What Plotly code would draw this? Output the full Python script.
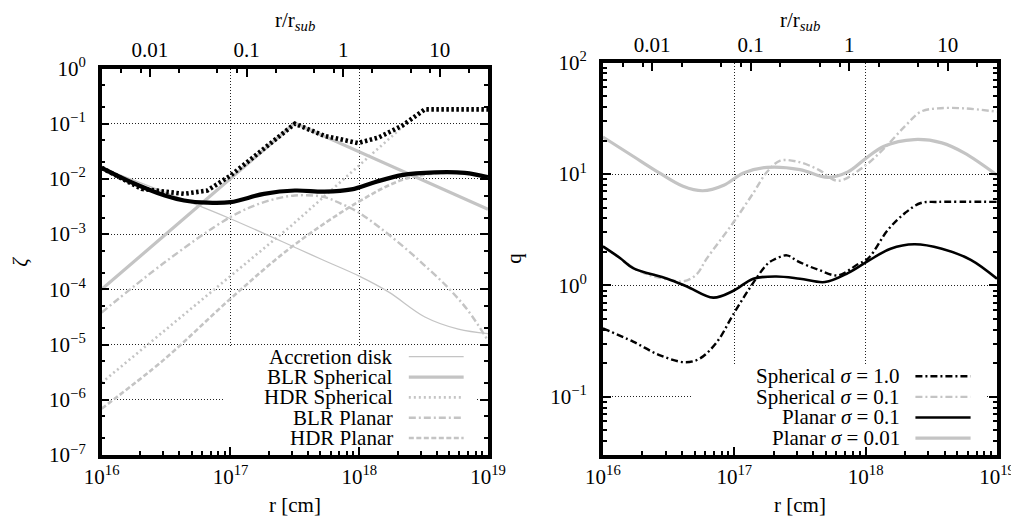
import numpy as np
import plotly.graph_objects as go

# ---------------- data (log10 values) ----------------
# Left panel: zeta vs r [cm]
disk_logr = [16.0, 16.615, 17.0, 17.52, 17.71, 18.0, 18.23, 18.51, 18.77, 19.0]
disk_logz = [-1.80, -2.355, -2.72, -3.26, -3.46, -3.76, -4.05, -4.50, -4.72, -4.80]

blrs_logr = [16.0, 17.5, 19.0]
blrs_logz = [-4.0, -0.99, -2.55]

hdrs_logr = [16.0, 17.476, 18.33, 18.51, 19.0]
hdrs_logz = [-5.69, -2.84, -1.07, -0.74, -0.76]

blrp_logr = [16.0, 16.49, 17.0, 17.26, 17.5, 17.73, 17.86, 17.99, 18.17, 18.38, 18.50, 18.69, 18.85, 19.0]
blrp_logz = [-4.42, -3.51, -2.69, -2.42, -2.30, -2.33, -2.45, -2.60, -2.90, -3.30, -3.55, -3.97, -4.40, -4.93]

hdrp_logr = [16.0, 16.49, 17.0, 17.476, 17.99, 18.33, 18.59, 18.82, 19.0]
hdrp_logz = [-6.16, -5.26, -4.17, -3.23, -2.42, -2.02, -1.90, -1.90, -1.98]

totsph_logr = [16.0, 16.31, 16.64, 16.82, 17.0, 17.26, 17.47, 17.5, 17.73, 17.99, 18.15, 18.33, 18.51, 19.0]
totsph_logz = [-1.80, -2.18, -2.27, -2.21, -1.94, -1.46, -1.05, -1.0, -1.22, -1.35, -1.25, -1.04, -0.74, -0.74]

totpl_logr = [16.0, 16.23, 16.49, 16.64, 16.82, 17.0, 17.26, 17.5, 17.73, 17.94, 18.12, 18.33, 18.59, 18.82, 19.0]
totpl_logz = [-1.80, -2.06, -2.30, -2.39, -2.43, -2.42, -2.27, -2.21, -2.23, -2.19, -2.06, -1.93, -1.88, -1.89, -1.97]

# Right panel: q vs r [cm]
sph1_logr = [16.0, 16.23, 16.43, 16.625, 16.74, 16.87, 16.99, 17.12, 17.25, 17.30, 17.40, 17.485, 17.64, 17.79, 17.94, 18.02, 18.17, 18.30, 18.42, 18.55, 19.0]
sph1_logq = [-0.385, -0.505, -0.625, -0.69, -0.655, -0.505, -0.265, -0.02, 0.19, 0.23, 0.27, 0.216, 0.14, 0.09, 0.19, 0.243, 0.50, 0.65, 0.74, 0.75, 0.75]

sph01_logr = [16.0, 16.13, 16.23, 16.36, 16.49, 16.61, 16.71, 16.79, 16.99, 17.145, 17.25, 17.35, 17.485, 17.64, 17.79, 17.99, 18.14, 18.30, 18.42, 18.55, 18.75, 19.0]
sph01_logq = [0.35, 0.245, 0.16, 0.09, 0.055, 0.036, 0.095, 0.24, 0.56, 0.83, 1.02, 1.12, 1.11, 1.04, 0.94, 1.07, 1.23, 1.43, 1.56, 1.59, 1.59, 1.56]

pl01_logr = [16.0, 16.13, 16.23, 16.49, 16.64, 16.84, 16.99, 17.145, 17.32, 17.5, 17.69, 17.865, 18.02, 18.19, 18.37, 18.58, 18.80, 19.0]
pl01_logq = [0.35, 0.246, 0.156, 0.06, -0.01, -0.11, -0.05, 0.06, 0.08, 0.06, 0.03, 0.11, 0.22, 0.33, 0.37, 0.33, 0.23, 0.06]

pl001_logr = [16.0, 16.23, 16.43, 16.61, 16.76, 16.92, 17.07, 17.25, 17.5, 17.71, 17.865, 17.99, 18.14, 18.37, 18.58, 18.75, 19.0]
pl001_logq = [1.333, 1.16, 1.01, 0.89, 0.85, 0.90, 1.01, 1.06, 1.04, 0.97, 1.02, 1.13, 1.25, 1.31, 1.28, 1.19, 0.99]

left_names = ["Accretion disk", "BLR Spherical", "HDR Spherical", "BLR Planar", "HDR Planar"]
right_names = ["Spherical <i>σ</i> = 1.0", "Spherical <i>σ</i> = 0.1",
               "Planar <i>σ</i> = 0.1", "Planar <i>σ</i> = 0.01"]

x_tickvals = [1e16, 1e17, 1e18, 1e19]
x_ticktext = ["10<sup>16</sup>", "10<sup>17</sup>", "10<sup>18</sup>", "10<sup>19</sup>"]
top_tickvals = [0.01, 0.1, 1, 10]
top_ticktext = ["0.01", "0.1", "1", "10"]
zeta_tickvals = [10.0 ** e for e in range(-7, 1)]
zeta_ticktext = ["10<sup>−7</sup>", "10<sup>−6</sup>", "10<sup>−5</sup>", "10<sup>−4</sup>",
                 "10<sup>−3</sup>", "10<sup>−2</sup>", "10<sup>−1</sup>", "10<sup>0</sup>"]
q_tickvals = [0.1, 1, 10, 100]
q_ticktext = ["10<sup>−1</sup>", "10<sup>0</sup>", "10<sup>1</sup>", "10<sup>2</sup>"]

# ---------------- styles / geometry ----------------
GRAY = "#c4c4c4"
BLACK = "#000000"
FONT = "Liberation Serif, DejaVu Serif, serif"
FS = 21
DASHDOT = "7px,3px,2px,3px"

OFF = 8                      # page body margin
W, H = 1019 - OFF, 520 - OFF  # figure size in page


def xp(px):
    return (px - OFF) / W


def yp(py):
    return 1 - (py - OFF) / H


left_styles = [
    dict(color=GRAY, width=1.2, dash="solid"),
    dict(color=GRAY, width=3.2, dash="solid"),
    dict(color=GRAY, width=2.6, dash="2px,3px"),
    dict(color=GRAY, width=2.4, dash=DASHDOT),
    dict(color=GRAY, width=2.6, dash="5px,2.5px"),
]
right_styles = [
    dict(color=BLACK, width=2.4, dash=DASHDOT),
    dict(color=GRAY, width=2.4, dash=DASHDOT),
    dict(color=BLACK, width=2.6, dash="solid"),
    dict(color=GRAY, width=3.2, dash="solid"),
]


def pw(a):
    return (10.0 ** np.array(a)).tolist()


fig = go.Figure()

left_data = [(disk_logr, disk_logz, "spline"), (blrs_logr, blrs_logz, "linear"),
             (hdrs_logr, hdrs_logz, "linear"), (blrp_logr, blrp_logz, "spline"),
             (hdrp_logr, hdrp_logz, "spline")]
for (lr, lz, shp), nm, st in zip(left_data, left_names, left_styles):
    fig.add_trace(go.Scatter(x=pw(lr), y=pw(lz), mode="lines", name=nm,
                             line=dict(shape=shp, **st), xaxis="x", yaxis="y",
                             showlegend=False))
fig.add_trace(go.Scatter(x=pw(totsph_logr), y=pw(totsph_logz), mode="lines",
                         name="Total spherical",
                         line=dict(color=BLACK, width=4.6, dash="2.5px,2.5px", shape="linear"),
                         xaxis="x", yaxis="y", showlegend=False))
fig.add_trace(go.Scatter(x=pw(totpl_logr), y=pw(totpl_logz), mode="lines",
                         name="Total planar",
                         line=dict(color=BLACK, width=4.2, shape="spline"),
                         xaxis="x", yaxis="y", showlegend=False))

right_data = [(sph1_logr, sph1_logq), (sph01_logr, sph01_logq),
              (pl01_logr, pl01_logq), (pl001_logr, pl001_logq)]
order = [3, 1, 2, 0]  # draw gray first
for i in order:
    lr, lq = right_data[i]
    fig.add_trace(go.Scatter(x=pw(lr), y=pw(lq), mode="lines", name=right_names[i],
                             line=dict(shape="spline", **right_styles[i]),
                             xaxis="x3", yaxis="y2", showlegend=False))

# empty traces so the top r/r_sub axes get drawn
fig.add_trace(go.Scatter(x=[], y=[], xaxis="x2", yaxis="y", showlegend=False, hoverinfo="skip"))
fig.add_trace(go.Scatter(x=[], y=[], xaxis="x4", yaxis="y2", showlegend=False, hoverinfo="skip"))

# ---------------- axes ----------------
L_dom_x = [xp(101.7), xp(488.0)]
L_dom_y = [yp(455.0), yp(68.5)]
R_dom_x = [xp(602.9), xp(997.0)]
R_dom_y = [yp(455.0), yp(62.7)]


def minor_vals(e0, e1, mults):
    return [m * 10.0 ** e for e in range(e0, e1) for m in mults]


tickfont = dict(family=FONT, size=FS, color="black")
common_x = dict(type="log", showline=True, linewidth=3.5, linecolor="black", mirror=True,
                ticks="inside", ticklen=8, tickwidth=2, tickcolor="black",
                tickmode="array", tickvals=x_tickvals, ticktext=x_ticktext,
                showgrid=True, gridcolor="#222222", gridwidth=1, griddash="1px,2px",
                zeroline=False, tickfont=tickfont, range=[16, 19], automargin=False,
                minor=dict(ticks="inside", ticklen=4, tickwidth=1.5, tickcolor="black",
                           tickmode="array", tickvals=minor_vals(16, 19, range(2, 10)),
                           showgrid=False))
common_top = dict(type="log", side="top", showline=False, ticks="inside", ticklen=8,
                  tickwidth=2, tickcolor="black", tickmode="array", tickvals=top_tickvals,
                  ticktext=top_ticktext, showgrid=False, zeroline=False, tickfont=tickfont,
                  range=[-2.5, 1.5], automargin=False, ticklabelstandoff=6,
                  minor=dict(ticks="inside", ticklen=4, tickwidth=1.5, tickcolor="black",
                             tickmode="array",
                             tickvals=minor_vals(-3, 2, [2, 5, 8]), showgrid=False))
common_y = dict(type="log", showline=True, linewidth=3.5, linecolor="black", mirror="ticks",
                ticks="inside", ticklen=8, tickwidth=2, tickcolor="black",
                tickmode="array", showgrid=True, gridcolor="#222222", gridwidth=1,
                griddash="1px,2px", zeroline=False, tickfont=tickfont, ticklabelstandoff=8,
                automargin=False)

fig.update_layout(
    template="none",
    xaxis=dict(domain=L_dom_x, anchor="y", **common_x),
    xaxis2=dict(domain=L_dom_x, anchor="y", overlaying="x", **common_top),
    yaxis=dict(domain=L_dom_y, anchor="x", range=[-7, 0], tickvals=zeta_tickvals,
               ticktext=zeta_ticktext,
               minor=dict(ticks="inside", ticklen=4, tickwidth=1.5, tickcolor="black",
                          tickmode="array", tickvals=minor_vals(-7, 0, [2, 5]), showgrid=False),
               **common_y),
    xaxis3=dict(domain=R_dom_x, anchor="y2", **common_x),
    xaxis4=dict(domain=R_dom_x, anchor="y2", overlaying="x3", **common_top),
    yaxis2=dict(domain=R_dom_y, anchor="x3", range=[np.log10(0.03), 2], tickvals=q_tickvals,
                ticktext=q_ticktext,
                minor=dict(ticks="inside", ticklen=4, tickwidth=1.5, tickcolor="black",
                           tickmode="array", tickvals=minor_vals(-2, 2, range(2, 10)),
                           showgrid=False),
                **common_y),
    width=W, height=H, margin=dict(l=0, r=0, t=0, b=0, pad=0),
    paper_bgcolor="white", plot_bgcolor="white",
    font=dict(family=FONT, size=FS, color="black"),
    showlegend=False,
)

# ---------------- custom legends (text left, sample right) ----------------
shapes = []
annotations = []


def add_legend(xref, yref, box, text_x, samp_x0, samp_x1, y_top, step, names, styles):
    shapes.append(dict(type="rect", xref=xref, yref=yref, x0=box[0], x1=box[1],
                       y0=box[2], y1=box[3], fillcolor="white", line=dict(width=0),
                       layer="above"))
    for k, (nm, st) in enumerate(zip(names, styles)):
        yy = y_top - k * step
        annotations.append(dict(xref=xref, yref=yref, x=text_x, y=yy, text=nm,
                                showarrow=False, xanchor="right", yanchor="middle",
                                font=dict(family=FONT, size=FS, color="black")))
        shapes.append(dict(type="line", xref=xref, yref=yref, x0=samp_x0, x1=samp_x1,
                           y0=yy, y1=yy, line=dict(color=st["color"], width=st["width"],
                                                   dash=st["dash"]), layer="above"))


add_legend("x domain", "y domain", [0.319, 0.9715, 0.025, 0.282], 0.760, 0.795, 0.937,
           0.2543, 0.0526, left_names, left_styles)
add_legend("x3 domain", "y2 domain", [0.226, 0.9695, 0.025, 0.227], 0.759, 0.793, 0.933,
           0.2006, 0.0525, right_names, right_styles)

# axis titles
title_font = dict(family=FONT, size=FS, color="black")
for xc in [(L_dom_x[0] + L_dom_x[1]) / 2, (R_dom_x[0] + R_dom_x[1]) / 2]:
    annotations.append(dict(xref="paper", yref="paper", x=xc, y=yp(505), text="r [cm]",
                            showarrow=False, xanchor="center", yanchor="middle", font=title_font))
    annotations.append(dict(xref="paper", yref="paper", x=xc, y=yp(21),
                            text="r/r<sub><i>sub</i></sub>",
                            showarrow=False, xanchor="center", yanchor="middle", font=title_font))
annotations.append(dict(xref="paper", yref="paper", x=xp(20), y=(L_dom_y[0] + L_dom_y[1]) / 2,
                        text="<i>ζ</i>", textangle=-90, showarrow=False,
                        xanchor="center", yanchor="middle", font=title_font))
annotations.append(dict(xref="paper", yref="paper", x=xp(514), y=(R_dom_y[0] + R_dom_y[1]) / 2,
                        text="q", textangle=-90, showarrow=False,
                        xanchor="center", yanchor="middle", font=title_font))

fig.update_layout(shapes=shapes, annotations=annotations)
fig.write_html("out.html")
